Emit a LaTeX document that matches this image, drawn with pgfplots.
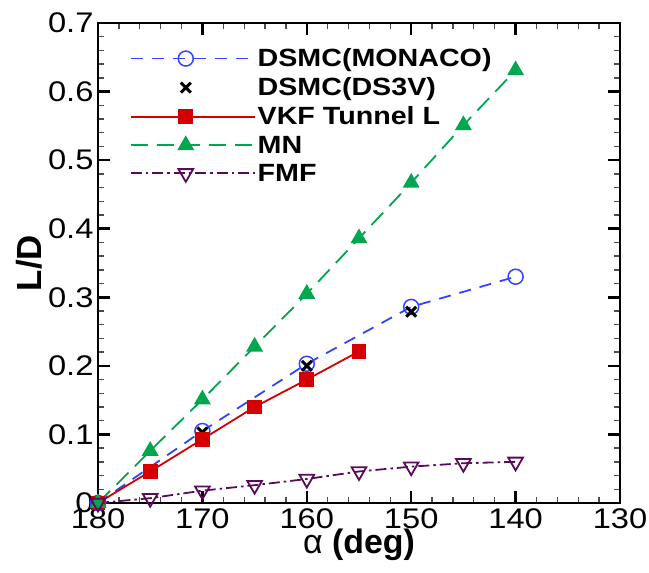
\documentclass[border=0pt]{standalone}
\usepackage{pgfplots}
\pgfplotsset{compat=1.18}
\usepackage{fontspec}
\setmainfont{Liberation Sans}
\newfontfamily\wide[FakeStretch=1.15]{Liberation Sans}
\definecolor{cblue}{RGB}{51,68,255}
\definecolor{cred}{RGB}{212,0,0}
\definecolor{cgreen}{RGB}{0,166,80}
\definecolor{cpurple}{RGB}{90,10,90}
\pgfplotsset{
  longline legend/.style={legend image code/.code={\path (0bp,0bp) -- (124bp,0bp);\draw[mark repeat=2,mark phase=2,##1] plot coordinates {(0bp,0bp) (55bp,0bp) (111bp,0bp)};}},
}
\begin{document}
\begin{tikzpicture}
\useasboundingbox (-98bp,-70bp) rectangle (551bp,503bp);
\begin{axis}[
  scale only axis,
  width=522bp, height=480bp,
  xmin=130, xmax=180, ymin=0, ymax=0.7,
  x dir=reverse,
  xtick={130,140,150,160,170,180},
  ytick={0,0.1,0.2,0.3,0.4,0.5,0.6,0.7},
  yticklabels={0,0.1,0.2,0.3,0.4,0.5,0.6,0.7},
  minor x tick num=4, minor y tick num=4,
  tick align=inside,
  major tick length=12bp, minor tick length=6bp,
  every major tick/.style={line width=2.5bp,black},
  every minor tick/.style={line width=1.3bp,black!70},
  axis line style={line width=2.5bp},
  /pgf/number format/assume math mode=true,
  tick label style={font=\wide\fontsize{28.5}{30}\selectfont},
  xticklabel style={yshift=-2bp},
  yticklabel style={xshift=-1bp},
  xlabel={{\mdseries α} \textbf{(deg)}},
  ylabel={\textbf{L/D}},
  xlabel style={font=\fontsize{34}{36}\selectfont, at={(axis description cs:0.5,0)}, anchor=center, yshift=-42bp},
  ylabel style={font=\fontsize{35}{37}\selectfont, at={(axis description cs:-0.132,0.5)}, anchor=center},
  legend cell align=left,
  legend style={at={(rel axis cs:0.055,0.955)}, anchor=north west, draw=none, fill=none,
    font=\wide\bfseries\fontsize{25}{27}\selectfont, row sep=5.5bp,
    nodes={inner sep=2bp}},
  longline legend,
]
\addplot[cblue, line width=1.8bp, dash pattern=on 12bp off 9bp, mark=o, mark size=7.5bp, mark options={solid, line width=1.5bp}]
  coordinates {(180,0) (170,0.105) (160,0.203) (150,0.286) (140,0.330)};
\addlegendentry{DSMC(MONACO)}
\addplot[black, draw opacity=0, mark=x, mark size=7bp, mark options={solid, draw=black, draw opacity=1, line width=3bp}]
  coordinates {(170,0.103) (160,0.200) (150,0.279)};
\addlegendentry{DSMC(DS3V)}
\addplot[cred, line width=1.8bp, mark=square*, mark size=6.5bp, mark options={solid}]
  coordinates {(180,0) (175,0.046) (170,0.093) (165,0.140) (160,0.180) (155,0.221)};
\addlegendentry{VKF Tunnel L}
\addplot[cgreen, line width=1.8bp, dash pattern=on 17bp off 9bp, mark=triangle*, mark size=8bp, mark options={solid}]
  coordinates {(180,0) (175,0.076) (170,0.151) (165,0.228) (160,0.305) (155,0.386) (150,0.467) (145,0.551) (140,0.631)};
\addlegendentry{MN}
\addplot[cpurple, line width=1.8bp, dash pattern=on 11bp off 4bp on 2.5bp off 4bp, mark=triangle, mark size=8.5bp, mark options={solid, rotate=180, line width=1.8bp}]
  coordinates {(180,0) (175,0.007) (170,0.018) (165,0.026) (160,0.035) (155,0.046) (150,0.053) (145,0.058) (140,0.060)};
\addlegendentry{FMF}
\end{axis}
\end{tikzpicture}
\end{document}
